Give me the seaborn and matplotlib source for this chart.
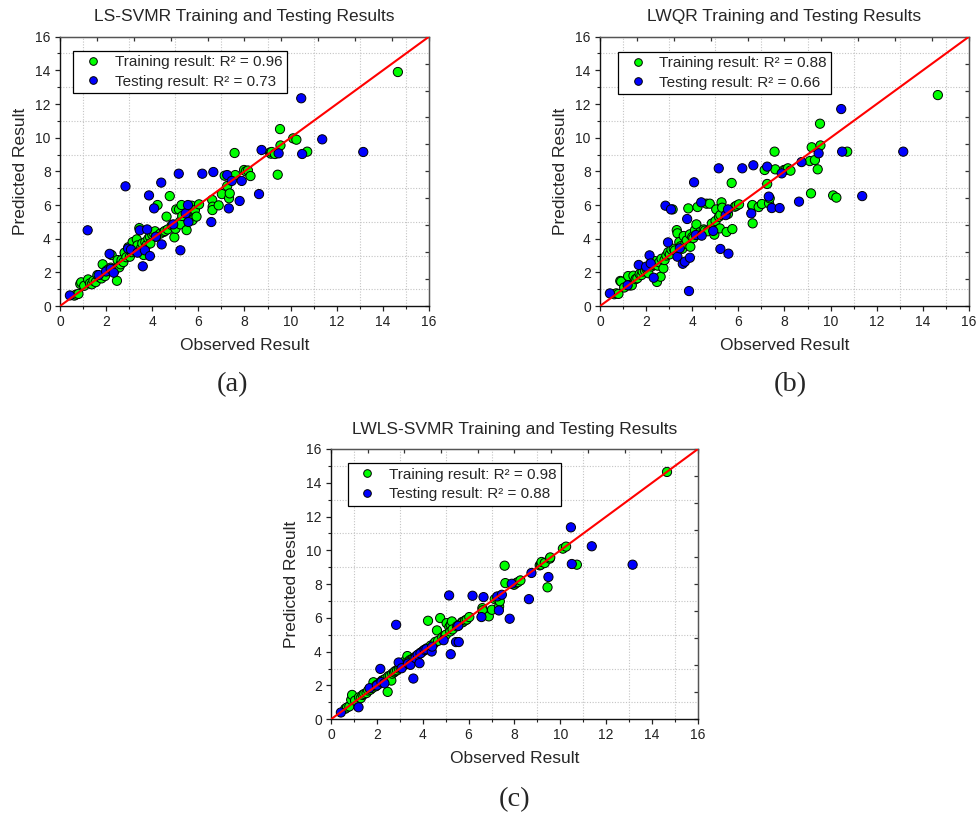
import numpy as np
import pandas as pd
import matplotlib
matplotlib.use('Agg')
import matplotlib.pyplot as plt
from matplotlib.lines import Line2D
from matplotlib.ticker import MultipleLocator
import seaborn as sns

# observed values (same samples in every panel)
train_obs = [0.62, 0.70, 0.80, 0.88, 0.92, 1.05, 1.22, 1.30, 1.38, 1.45,
             1.55, 1.62, 1.72, 1.80, 1.85, 1.95, 2.02, 2.10, 2.20, 2.24,
             2.30, 2.38, 2.47, 2.50, 2.57, 2.63, 2.67, 2.75, 2.80, 2.88,
             2.96, 3.03, 3.10, 3.15, 3.20, 3.25, 3.33, 3.36, 3.44, 3.50,
             3.57, 3.63, 3.70, 3.76, 3.83, 3.90, 3.92, 4.00, 4.05, 4.12,
             4.18, 4.23, 4.35, 4.50, 4.55, 4.62, 4.67, 4.76, 4.85, 4.96,
             5.01, 5.04, 5.16, 5.20, 5.22, 5.27, 5.30, 5.49, 5.55, 5.71,
             5.74, 5.85, 5.92, 6.03, 6.60, 6.62, 6.61, 6.88, 7.02, 7.14,
             7.25, 7.33, 7.36, 7.57, 7.60, 7.98, 8.06, 8.15, 8.26, 9.10,
             9.15, 9.18, 9.32, 9.44, 9.54, 9.56, 10.11, 10.25, 10.72, 14.65]
test_obs = [0.43, 1.20, 1.68, 2.00, 2.15, 2.20, 2.33, 2.84, 2.95, 3.08,
            3.36, 3.46, 3.59, 3.68, 3.78, 3.86, 3.90, 4.08, 4.16, 4.39,
            4.41, 4.91, 5.15, 5.22, 5.45, 5.55, 5.57, 6.17, 6.56, 6.65,
            7.25, 7.32, 7.45, 7.79, 7.88, 8.63, 8.74, 9.48, 10.46, 10.50,
            11.37, 13.15]

# predicted values, LS-SVMR
lssvmr_train = [0.62, 0.68, 0.72, 1.31, 1.41, 1.20, 1.58, 1.35, 1.29, 1.50,
                1.42, 1.84, 1.70, 1.64, 2.48, 1.78, 2.10, 2.18, 2.28, 3.03,
                2.20, 2.14, 1.50, 2.73, 2.30, 2.48, 2.73, 2.61, 3.17, 2.90,
                3.49, 2.93, 3.20, 3.80, 3.30, 3.33, 3.96, 3.60, 4.63, 3.40,
                3.72, 3.03, 3.80, 3.62, 4.00, 4.12, 3.72, 4.25, 4.36, 4.44,
                4.12, 6.00, 4.30, 4.40, 4.46, 5.31, 4.55, 6.53, 4.80, 4.08,
                4.59, 5.74, 5.74, 5.01, 4.85, 6.00, 5.35, 4.51, 5.60, 5.96,
                5.09, 5.70, 5.31, 6.04, 6.30, 5.90, 5.70, 5.98, 6.65, 7.74,
                7.13, 6.40, 6.69, 9.09, 7.78, 8.08, 8.00, 8.05, 7.72, 9.11,
                9.05, 9.15, 9.03, 7.80, 10.51, 9.54, 9.96, 9.88, 9.17, 13.90]
lssvmr_test = [0.63, 4.50, 1.84, 2.05, 3.10, 2.20, 1.98, 7.11, 3.41, 3.35,
               3.17, 4.50, 2.36, 3.31, 4.55, 6.57, 2.97, 5.80, 4.12, 7.33,
               3.66, 4.85, 7.86, 3.31, 5.50, 6.00, 4.99, 7.86, 4.99, 7.96,
               7.78, 5.80, 7.43, 6.24, 7.43, 6.65, 9.27, 9.07, 12.34, 9.03,
               9.90, 9.15]

# predicted values, LWQR
lwqr_train = [0.70, 0.75, 0.72, 1.49, 1.45, 1.10, 1.78, 1.22, 1.23, 1.80,
              1.60, 1.65, 1.90, 1.84, 2.05, 2.10, 2.20, 1.95, 2.53, 2.35,
              2.45, 2.67, 1.43, 2.40, 2.60, 1.74, 2.81, 2.24, 2.73, 3.00,
              3.20, 3.07, 3.35, 5.74, 3.40, 3.30, 4.51, 4.32, 3.80, 3.55,
              3.40, 4.16, 3.70, 3.90, 5.80, 4.26, 3.52, 4.10, 4.04, 4.51,
              4.85, 5.88, 4.40, 4.55, 4.48, 6.08, 4.44, 6.08, 4.90, 4.24,
              5.05, 5.74, 5.30, 4.61, 5.41, 6.16, 5.84, 4.40, 5.47, 7.31,
              4.57, 5.90, 5.96, 6.04, 5.96, 4.91, 6.00, 5.88, 6.06, 8.08,
              7.25, 6.10, 6.40, 9.17, 8.12, 8.08, 8.10, 8.18, 8.04, 8.61,
              6.69, 9.43, 8.67, 8.12, 10.83, 9.54, 6.57, 6.44, 9.17, 12.53]
lwqr_test = [0.75, 1.23, 2.44, 2.34, 3.01, 2.53, 1.68, 5.96, 3.78, 5.74,
             2.93, 3.43, 2.51, 2.63, 5.17, 0.89, 2.87, 7.35, 4.22, 6.16,
             4.18, 4.46, 8.18, 3.39, 5.40, 5.74, 3.11, 8.18, 5.50, 8.36,
             8.28, 6.50, 5.82, 5.82, 7.88, 6.20, 8.55, 9.07, 11.70, 9.17,
             6.53, 9.17]

# predicted values, LWLS-SVMR
lwlssvmr_train = [0.62, 0.70, 0.76, 1.15, 1.44, 1.10, 1.30, 1.25, 1.44, 1.50,
                  1.55, 1.70, 1.75, 1.85, 2.19, 1.95, 2.05, 2.10, 2.25, 2.30,
                  2.32, 2.40, 1.62, 2.55, 2.57, 2.29, 2.70, 2.78, 2.85, 2.90,
                  3.00, 3.05, 3.12, 3.32, 3.23, 3.48, 3.74, 3.40, 3.50, 3.52,
                  3.60, 3.62, 3.72, 3.78, 3.85, 3.92, 3.95, 4.02, 4.08, 4.12,
                  4.20, 5.83, 4.36, 4.50, 4.58, 5.26, 4.64, 5.99, 4.85, 4.95,
                  5.00, 5.69, 5.45, 5.20, 5.59, 5.79, 5.32, 5.50, 5.55, 5.75,
                  5.74, 5.85, 5.90, 6.05, 6.58, 6.38, 6.45, 6.09, 6.48, 7.11,
                  7.15, 6.68, 6.98, 9.09, 8.06, 7.96, 8.05, 8.12, 8.22, 9.11,
                  9.15, 9.31, 9.25, 7.81, 9.51, 9.58, 10.10, 10.22, 9.15, 14.64]
lwlssvmr_test = [0.40, 0.71, 1.84, 2.00, 2.98, 2.20, 2.13, 5.59, 3.36, 3.02,
                 3.30, 3.22, 2.41, 3.62, 3.81, 3.32, 3.90, 4.11, 4.15, 4.01,
                 4.30, 4.68, 7.33, 3.85, 4.57, 5.53, 4.57, 7.31, 6.05, 7.23,
                 7.27, 6.44, 7.37, 5.95, 8.02, 7.11, 8.66, 8.42, 11.36, 9.19,
                 10.24, 9.15]

titles = ['LS-SVMR Training and Testing Results',
          'LWQR Training and Testing Results',
          'LWLS-SVMR Training and Testing Results']
r2_train = ['0.96', '0.88', '0.98']
r2_test = ['0.73', '0.66', '0.88']
captions = ['(a)', '(b)', '(c)']

GREEN = '#00ff00'
BLUE = '#0000ff'


def make_frame(train_pred, test_pred, r2a, r2b):
    tr_lab = f'Training result: R\u00b2 = {r2a}'
    te_lab = f'Testing result: R\u00b2 = {r2b}'
    df = pd.DataFrame({
        'obs': train_obs + test_obs,
        'pred': train_pred + test_pred,
        'set': [tr_lab] * len(train_obs) + [te_lab] * len(test_obs),
    })
    return df, [tr_lab, te_lab]


def draw_panel(ax, df, labels, title, leg_anchor):
    sns.scatterplot(data=df, x='obs', y='pred', hue='set', hue_order=labels,
                    palette=[GREEN, BLUE], s=44, edgecolor='black',
                    linewidth=0.7, legend=False, ax=ax, zorder=3)
    ax.set_xlim(0, 16)
    ax.set_ylim(0, 16)
    lims = ax.get_xlim()
    ax.plot(lims, lims, color='red', lw=1.5, zorder=4)

    ax.xaxis.set_major_locator(MultipleLocator(2))
    ax.yaxis.set_major_locator(MultipleLocator(2))
    ax.xaxis.set_minor_locator(MultipleLocator(1))
    ax.yaxis.set_minor_locator(MultipleLocator(1))
    ax.grid(which='major', visible=False)
    ax.grid(which='minor', ls=(0, (1, 1.5)), color='#c4c4c4', lw=0.8)
    ax.set_axisbelow(True)
    ax.tick_params(which='major', direction='out', length=3.6, width=0.9,
                   bottom=True, left=True, top=False, right=False,
                   labelsize=10, colors='#222222', pad=3)
    ax.tick_params(which='minor', direction='out', length=2.0, width=0.8,
                   bottom=True, left=True, top=False, right=False,
                   colors='#222222')
    for side in ['left', 'bottom']:
        ax.spines[side].set_color('#111111')
        ax.spines[side].set_linewidth(1.0)
    for side in ['top', 'right']:
        ax.spines[side].set_color('#555555')
        ax.spines[side].set_linewidth(1.0)

    # top and right axes carry their own inward ticks
    top = ax.secondary_xaxis('top')
    top.set_xticks(np.arange(0, 16.01, 1.6))
    top.tick_params(direction='in', length=3, width=0.9, colors='#333333',
                    labeltop=False)
    top.spines['top'].set_color('#555555')
    right = ax.secondary_yaxis('right')
    right.set_yticks(np.arange(0, 16.01, 1.6))
    right.tick_params(direction='in', length=3, width=0.9, colors='#333333',
                      labelright=False)
    right.spines['right'].set_color('#555555')

    ax.set_xlabel('Observed Result', fontsize=12.5, labelpad=6)
    ax.set_ylabel('Predicted Result', fontsize=12.5, labelpad=5)
    ax.set_title(title, fontsize=12.5, pad=11)

    handles = [Line2D([], [], ls='', marker='o', markersize=5.5,
                      markerfacecolor=c, markeredgecolor='black',
                      markeredgewidth=0.7) for c in [GREEN, BLUE]]
    leg = ax.legend(handles, labels, loc='upper left', bbox_to_anchor=leg_anchor,
                    borderaxespad=0, fontsize=11, frameon=True, fancybox=False,
                    framealpha=1, edgecolor='black', handletextpad=0.4,
                    labelspacing=0.35, borderpad=0.3, handlelength=2.0)
    leg.get_frame().set_linewidth(0.9)
    leg.set_zorder(5)


sns.set_style('white')
plt.rcParams['font.family'] = ['Liberation Sans', 'DejaVu Sans']

fig = plt.figure(figsize=(9.77, 8.22), dpi=100)
ax_a = fig.add_axes([0.0614, 0.6277, 0.3777, 0.3277])
ax_b = fig.add_axes([0.6141, 0.6277, 0.3777, 0.3277])
ax_c = fig.add_axes([0.3388, 0.1250, 0.3756, 0.3288])

panels = [
    (ax_a, lssvmr_train, lssvmr_test, (0.036, 0.948)),
    (ax_b, lwqr_train, lwqr_test, (0.048, 0.944)),
    (ax_c, lwlssvmr_train, lwlssvmr_test, (0.045, 0.948)),
]
for i, (ax, tr, te, anchor) in enumerate(panels):
    df, labels = make_frame(tr, te, r2_train[i], r2_test[i])
    draw_panel(ax, df, labels, titles[i], anchor)

cap_pos = [(233 / 977, 1 - 385 / 822), (790 / 977, 1 - 385 / 822),
           (515 / 977, 1 - 800 / 822)]
for cap, (x, y) in zip(captions, cap_pos):
    fig.text(x, y, cap, ha='center', va='center', fontsize=20.5,
             family=['Liberation Serif', 'DejaVu Serif'])

fig.savefig('out.png', dpi=100)
